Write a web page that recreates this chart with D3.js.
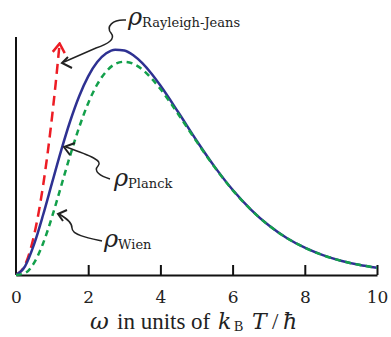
<!DOCTYPE html>
<html>
<head>
<meta charset="utf-8">
<script src="https://cdn.jsdelivr.net/npm/d3@7"></script>
<style>
  body { margin: 0; background: #fff; }
  text { font-family: "DejaVu Serif", "Liberation Serif", serif; fill: #222; }
</style>
</head>
<body>
<svg id="chart" width="391" height="337"></svg>
<script>
// omega in units of kB T / hbar
const omega = [0, 0.25, 0.5, 0.75, 1, 1.25, 1.5, 1.75, 2, 2.25, 2.5, 2.75, 3, 3.25, 3.5, 3.75,
  4, 4.5, 5, 5.5, 6, 6.5, 7, 7.5, 8, 8.5, 9, 9.5, 10]
const planck = [0, 0.055, 0.193, 0.378, 0.582, 0.784, 0.969, 1.127, 1.252, 1.342, 1.397, 1.420, 1.415, 1.385, 1.335, 1.270,
  1.194, 1.024, 0.848, 0.683, 0.537, 0.414, 0.313, 0.233, 0.172, 0.125, 0.090, 0.064, 0.045]
const wien = [0, 0.012, 0.076, 0.199, 0.368, 0.560, 0.753, 0.931, 1.083, 1.201, 1.283, 1.330, 1.344, 1.331, 1.295, 1.240,
  1.172, 1.012, 0.842, 0.680, 0.535, 0.413, 0.313, 0.233, 0.172, 0.125, 0.090, 0.064, 0.045]
const rjOmega = [0, 0.25, 0.5, 0.75, 1, 1.1, 1.2]
const rayleighJeans = [0, 0.0625, 0.25, 0.5625, 1, 1.21, 1.44]
const xTicks = [0, 2, 4, 6, 8, 10]

const svg = d3.select('#chart')

let x = d3.scaleLinear().domain([0, 10]).range([16, 377])
let y = d3.scaleLinear().domain([0, 1.5]).range([275, 37])

let line = d3.line()
  .x(d => x(d[0]))
  .y(d => y(d[1]))
  .curve(d3.curveMonotoneX)

let defs = svg.append('defs')
defs.append('marker')
    .attr('id', 'redhead')
    .attr('markerUnits', 'userSpaceOnUse')
    .attr('viewBox', '-12 -8 14 16')
    .attr('markerWidth', 14)
    .attr('markerHeight', 16)
    .attr('refX', -3)
    .attr('refY', 0)
    .attr('orient', 'auto')
  .append('path')
    .attr('d', 'M-9,-6 L0,0 L-9,6')
    .style('fill', 'none')
    .style('stroke', '#ed1c24')
    .style('stroke-width', 2.5)

// axes
svg.append('line')
  .attr('x1', x(0)).attr('x2', x(0))
  .attr('y1', y(0)).attr('y2', y(1.5))
  .style('stroke', '#111').style('stroke-width', 2)

let xAxis = d3.axisBottom(x)
  .tickValues(xTicks)
  .tickSizeInner(-10)
  .tickSizeOuter(0)
  .tickPadding(16)
  .tickFormat(d3.format('d'))

let gx = svg.append('g')
  .attr('transform', `translate(0, ${ y(0) })`)
  .call(xAxis)
gx.select('.domain').style('stroke', '#111').style('stroke-width', 2.2)
gx.selectAll('.tick line').style('stroke', '#111').style('stroke-width', 2)
  .filter(d => d === 0).remove()
gx.selectAll('.tick text')
  .style('font-family', '"DejaVu Serif", serif')
  .style('font-size', '17px')
  .style('fill', '#222')

// curves
let rjData = rjOmega.map((w, i) => [w, rayleighJeans[i]])
svg.append('path')
  .datum(rjData)
  .attr('d', line)
  .style('fill', 'none')
  .style('stroke', '#ed1c24')
  .style('stroke-width', 2.5)
  .style('stroke-dasharray', '10,6')
  .attr('marker-end', 'url(#redhead)')

svg.append('path')
  .datum(omega.map((w, i) => [w, planck[i]]))
  .attr('d', line)
  .style('fill', 'none')
  .style('stroke', '#2e3192')
  .style('stroke-width', 2.5)

svg.append('path')
  .datum(omega.map((w, i) => [w, wien[i]]))
  .attr('d', line)
  .style('fill', 'none')
  .style('stroke', '#13a04b')
  .style('stroke-width', 2.5)
  .style('stroke-dasharray', '6,4.5')

// annotations
let notes = [
  { sub: 'Rayleigh-Jeans', tx: 128, ty: 25,
    path: 'M126,20 C112,19 106,27 111,33 C116,39 108,44 96,48 L64,62',
    head: 'M68,57 L62,63 L72,68' },
  { sub: 'Planck', tx: 114, ty: 186,
    path: 'M110,179 C100,176 93,171 98,166 C103,161 92,156 66,147',
    head: 'M75,143 L64,147 L70,155' },
  { sub: 'Wien', tx: 104, ty: 247,
    path: 'M102,241 C88,238 72,235 72,228 C72,222 66,218 59,214',
    head: 'M67,210 L58,214 L63,221' }
]

notes.forEach(n => {
  svg.append('path').attr('d', n.path)
    .style('fill', 'none').style('stroke', '#222').style('stroke-width', 1.5)
  svg.append('path').attr('d', n.head)
    .style('fill', 'none').style('stroke', '#222').style('stroke-width', 2)
  let t = svg.append('text').attr('x', n.tx).attr('y', n.ty)
  t.append('tspan').style('font-size', '24px').style('font-style', 'italic').text('ρ')
  t.append('tspan').attr('dy', 2).style('font-size', '13px').text(n.sub)
})

// axis title
let title = svg.append('text')
  .attr('y', 329)
  .style('font-family', '"Liberation Serif", serif')
  .style('font-size', '23px')
let italic = s => s.style('font-family', '"DejaVu Serif", serif').style('font-style', 'italic')
title.append('tspan').attr('x', 90).call(italic).text('ω')
title.append('tspan').attr('x', 117).text('in units of')
title.append('tspan').attr('x', 218).call(italic).style('font-size', '22px').text('k')
title.append('tspan').attr('x', 234).attr('dy', 2).style('font-size', '14px').text('B')
title.append('tspan').attr('x', 252).attr('dy', -2).call(italic).style('font-size', '22px').text('T')
title.append('tspan').attr('x', 272).text('/')
title.append('tspan').attr('x', 283).call(italic).style('font-size', '22px').text('ħ')
</script>
</body>
</html>
